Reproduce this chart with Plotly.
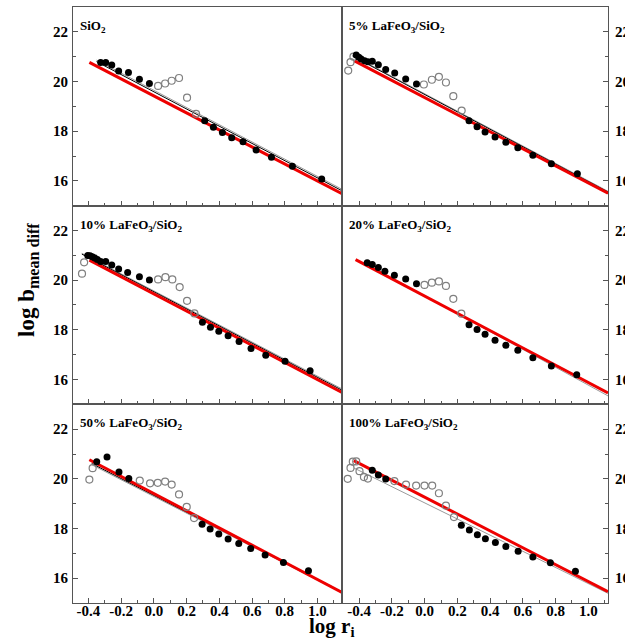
import plotly.graph_objects as go

# ---------------- data ----------------
PANEL_LABELS = ["SiO<sub>2</sub>", "5% LaFeO<sub>3</sub>/SiO<sub>2</sub>",
                "10% LaFeO<sub>3</sub>/SiO<sub>2</sub>", "20% LaFeO<sub>3</sub>/SiO<sub>2</sub>",
                "50% LaFeO<sub>3</sub>/SiO<sub>2</sub>", "100% LaFeO<sub>3</sub>/SiO<sub>2</sub>"]

X_TICKS = [-0.4, -0.2, 0.0, 0.2, 0.4, 0.6, 0.8, 1.0]
X_TICK_TEXT = ["-0.4", "-0.2", "0.0", "0.2", "0.4", "0.6", "0.8", "1.0"]
Y_TICKS = [16, 18, 20, 22]

# SiO2
sio2_fill_x = [-0.325, -0.294, -0.257, -0.215, -0.155, -0.088, -0.027, 0.311, 0.364, 0.419, 0.476, 0.545, 0.625, 0.719, 0.847, 1.026]
sio2_fill_y = [20.77, 20.77, 20.66, 20.42, 20.36, 20.09, 19.92, 18.42, 18.16, 17.95, 17.73, 17.57, 17.24, 16.95, 16.59, 16.07]
sio2_open_x = [0.026, 0.069, 0.109, 0.154, 0.203, 0.258]
sio2_open_y = [19.82, 19.92, 20.03, 20.14, 19.35, 18.70]
sio2_red_x, sio2_red_y = [-0.394, 1.15], [20.77, 15.48]
sio2_blk_x, sio2_blk_y = [-0.35, 1.15], [20.80, 15.60]
sio2_gry_x, sio2_gry_y = [-0.35, 1.15], [20.86, 15.66]

# 5 %
p5_fill_x = [-0.418, -0.402, -0.388, -0.367, -0.347, -0.320, -0.283, -0.238, -0.183, -0.116, -0.050, 0.271, 0.320, 0.369, 0.430, 0.496, 0.569, 0.661, 0.774, 0.933]
p5_fill_y = [21.07, 20.98, 20.91, 20.84, 20.80, 20.82, 20.67, 20.48, 20.34, 20.10, 19.90, 18.42, 18.18, 17.97, 17.77, 17.55, 17.33, 17.03, 16.69, 16.29]
p5_open_x = [-0.467, -0.453, -0.435, -0.005, 0.044, 0.087, 0.130, 0.175, 0.226]
p5_open_y = [20.44, 20.78, 21.00, 19.88, 20.07, 20.19, 19.96, 19.41, 18.83]
p5_red_x, p5_red_y = [-0.429, 1.12], [20.83, 15.50]
p5_blk_x, p5_blk_y = [-0.44, 1.12], [21.02, 15.55]
p5_gry_x, p5_gry_y = [-0.44, 1.12], [21.05, 15.58]

# 10 %
p10_fill_x = [-0.404, -0.390, -0.376, -0.361, -0.345, -0.325, -0.294, -0.257, -0.215, -0.160, -0.088, -0.027, 0.297, 0.346, 0.397, 0.454, 0.521, 0.594, 0.684, 0.802, 0.955]
p10_fill_y = [20.99, 20.98, 20.94, 20.89, 20.83, 20.75, 20.75, 20.61, 20.45, 20.31, 20.14, 20.01, 18.31, 18.10, 17.94, 17.76, 17.53, 17.25, 16.98, 16.73, 16.35]
p10_open_x = [-0.439, -0.426, 0.026, 0.071, 0.113, 0.158, 0.203, 0.248]
p10_open_y = [20.26, 20.72, 20.03, 20.12, 20.03, 19.72, 19.17, 18.66]
p10_red_x, p10_red_y = [-0.394, 1.15], [20.81, 15.48]
p10_blk_x, p10_blk_y = [-0.44, 1.15], [21.05, 15.57]
p10_gry_x, p10_gry_y = [-0.44, 1.15], [21.08, 15.62]

# 20 %
p20_fill_x = [-0.351, -0.320, -0.283, -0.243, -0.185, -0.116, -0.050, 0.271, 0.320, 0.369, 0.430, 0.496, 0.569, 0.661, 0.774, 0.929]
p20_fill_y = [20.70, 20.63, 20.51, 20.36, 20.20, 20.05, 19.86, 18.20, 18.01, 17.82, 17.58, 17.38, 17.18, 16.88, 16.54, 16.19]
p20_open_x = [-0.001, 0.044, 0.087, 0.130, 0.175, 0.224]
p20_open_y = [19.81, 19.90, 19.95, 19.77, 19.25, 18.65]
p20_red_x, p20_red_y = [-0.422, 1.12], [20.83, 15.46]
p20_blk_x, p20_blk_y = [], []
p20_gry_x, p20_gry_y = [-0.36, 1.12], [20.66, 15.34]

# 50 %
p50_fill_x = [-0.349, -0.286, -0.213, -0.153, 0.295, 0.344, 0.397, 0.454, 0.519, 0.592, 0.680, 0.792, 0.945]
p50_fill_y = [20.69, 20.88, 20.28, 20.01, 18.17, 17.98, 17.78, 17.58, 17.40, 17.19, 16.93, 16.63, 16.30]
p50_open_x = [-0.394, -0.374, -0.086, -0.023, 0.024, 0.069, 0.109, 0.154, 0.201, 0.246]
p50_open_y = [19.97, 20.43, 19.93, 19.82, 19.84, 19.89, 19.77, 19.37, 18.87, 18.42]
p50_red_x, p50_red_y = [-0.394, 1.15], [20.77, 15.43]
p50_blk_x, p50_blk_y = [-0.38, 1.15], [20.62, 15.45]
p50_gry_x, p50_gry_y = [-0.38, 1.15], [20.57, 15.42]

# 100 %
p100_fill_x = [-0.320, -0.283, -0.238, 0.224, 0.273, 0.322, 0.371, 0.432, 0.496, 0.571, 0.661, 0.768, 0.921]
p100_fill_y = [20.35, 20.15, 19.99, 18.13, 17.94, 17.75, 17.59, 17.44, 17.28, 17.08, 16.85, 16.62, 16.28]
p100_open_x = [-0.470, -0.453, -0.439, -0.418, -0.398, -0.371, -0.347, -0.185, -0.114, -0.052, -0.001, 0.046, 0.087, 0.130, 0.179]
p100_open_y = [20.00, 20.44, 20.69, 20.70, 20.31, 20.07, 20.01, 19.91, 19.77, 19.73, 19.73, 19.73, 19.42, 18.92, 18.46]
p100_red_x, p100_red_y = [-0.433, 1.12], [20.73, 15.46]
p100_blk_x, p100_blk_y = [], []
p100_gry_x, p100_gry_y = [-0.433, 1.12], [20.44, 15.39]

panels = [
    (sio2_fill_x, sio2_fill_y, sio2_open_x, sio2_open_y, sio2_red_x, sio2_red_y, sio2_blk_x, sio2_blk_y, sio2_gry_x, sio2_gry_y),
    (p5_fill_x, p5_fill_y, p5_open_x, p5_open_y, p5_red_x, p5_red_y, p5_blk_x, p5_blk_y, p5_gry_x, p5_gry_y),
    (p10_fill_x, p10_fill_y, p10_open_x, p10_open_y, p10_red_x, p10_red_y, p10_blk_x, p10_blk_y, p10_gry_x, p10_gry_y),
    (p20_fill_x, p20_fill_y, p20_open_x, p20_open_y, p20_red_x, p20_red_y, p20_blk_x, p20_blk_y, p20_gry_x, p20_gry_y),
    (p50_fill_x, p50_fill_y, p50_open_x, p50_open_y, p50_red_x, p50_red_y, p50_blk_x, p50_blk_y, p50_gry_x, p50_gry_y),
    (p100_fill_x, p100_fill_y, p100_open_x, p100_open_y, p100_red_x, p100_red_y, p100_blk_x, p100_blk_y, p100_gry_x, p100_gry_y),
]

# ---------------- layout ----------------
W, H = 625, 640
ML, MR, MT, MB = 73, 17, 7, 37
PW = W - ML - MR
PH = H - MT - MB
XSPLIT = (342 - ML) / PW
X_DOMAINS = [[0, XSPLIT], [XSPLIT, 1]]
Y_DOMAINS = [[2 / 3, 1], [1 / 3, 2 / 3], [0, 1 / 3]]
X_RANGES = [[-0.494, 1.15], [-0.505, 1.12]]
Y_RANGE = [15, 23]

FONT = "Liberation Serif"
AXCOL = "#555555"
tickfont = dict(family=FONT, size=15, color="black", weight="bold")

fig = go.Figure()
layout = dict(
    width=W, height=H, autosize=False,
    margin=dict(l=ML, r=MR, t=MT, b=MB, autoexpand=False),
    paper_bgcolor="white", plot_bgcolor="white",
    showlegend=False,
    font=dict(family=FONT),
)
annotations = []

for i, (fx, fy, ox, oy, rx, ry, bx, by, gx, gy) in enumerate(panels):
    r, c = divmod(i, 2)
    n = i + 1
    xa = "x" if n == 1 else f"x{n}"
    ya = "y" if n == 1 else f"y{n}"
    common = dict(xaxis=xa, yaxis=ya, hoverinfo="skip", showlegend=False)
    if gx:
        fig.add_trace(go.Scatter(x=gx, y=gy, mode="lines", line=dict(color="#9a9a9a", width=1), **common))
    if bx:
        fig.add_trace(go.Scatter(x=bx, y=by, mode="lines", line=dict(color="black", width=1), **common))
    fig.add_trace(go.Scatter(x=rx, y=ry, mode="lines", line=dict(color="#ee0000", width=3), **common))
    fig.add_trace(go.Scatter(x=ox, y=oy, mode="markers",
                             marker=dict(symbol="circle-open", size=7, color="#808080", line=dict(width=1.2)),
                             **common))
    fig.add_trace(go.Scatter(x=fx, y=fy, mode="markers",
                             marker=dict(symbol="circle", size=7, color="black"), **common))

    xkey = "xaxis" if n == 1 else f"xaxis{n}"
    ykey = "yaxis" if n == 1 else f"yaxis{n}"
    layout[xkey] = dict(
        domain=X_DOMAINS[c], anchor=ya, range=X_RANGES[c], automargin=False,
        tickmode="array", tickvals=X_TICKS, ticktext=X_TICK_TEXT,
        showticklabels=(r == 2), tickfont=tickfont,
        ticks="inside", ticklen=5, tickcolor=AXCOL, tickwidth=1,
        minor=dict(dtick=0.1, tick0=0, ticks="inside", ticklen=3, tickcolor=AXCOL),
        showline=True, linecolor=AXCOL, linewidth=1, mirror=True,
        showgrid=False, zeroline=False, ticklabelstandoff=-6,
    )
    layout[ykey] = dict(
        domain=Y_DOMAINS[r], anchor=xa, range=Y_RANGE, automargin=False,
        side="left" if c == 0 else "right",
        tickmode="array", tickvals=Y_TICKS, tickfont=tickfont,
        ticks="inside", ticklen=5, tickcolor=AXCOL, tickwidth=1,
        minor=dict(dtick=1, tick0=0, ticks="inside", ticklen=3, tickcolor=AXCOL),
        showline=True, linecolor=AXCOL, linewidth=1, mirror=True,
        showgrid=False, zeroline=False, ticklabelstandoff=1 if c == 0 else 3,
    )
    annotations.append(dict(
        text=PANEL_LABELS[i], xref=f"{xa} domain", yref=f"{ya} domain",
        x=0.02, y=0.955, xanchor="left", yanchor="top", showarrow=False,
        font=dict(family=FONT, size=13, color="black", weight="bold"),
    ))

annotations.append(dict(
    text="log b<sub>mean diff</sub>", xref="paper", yref="paper",
    x=-(ML - 28) / PW, y=(PH + MT - 280) / PH, xanchor="center", yanchor="middle",
    textangle=-90, showarrow=False,
    font=dict(family=FONT, size=23, color="black", weight="bold"),
))
annotations.append(dict(
    text="log r<sub>i</sub>", xref="paper", yref="paper",
    x=(332 - ML) / PW, y=-(627 - (PH + MT)) / PH, xanchor="center", yanchor="middle",
    showarrow=False,
    font=dict(family=FONT, size=21, color="black", weight="bold"),
))
layout["annotations"] = annotations
fig.update_layout(**layout)
fig.write_html("out.html", config={"displayModeBar": False},
               post_script="document.body.style.margin='0';document.body.style.padding='0';")
